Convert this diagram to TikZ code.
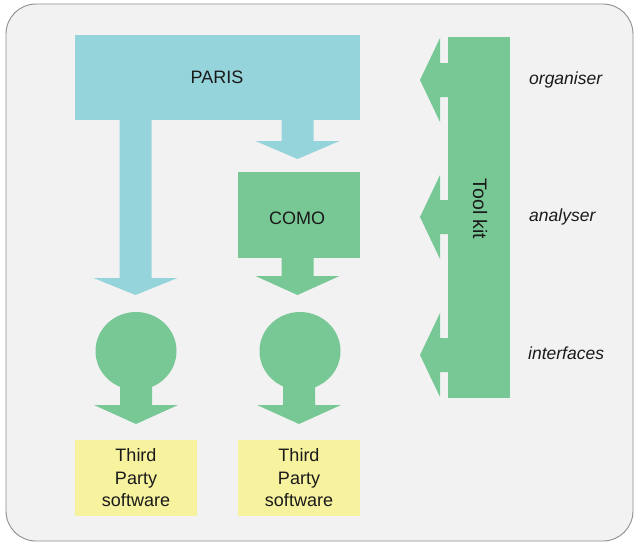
\documentclass[tikz,border=0pt]{standalone}
\usepackage{fontspec}
\setmainfont{Liberation Sans}
\usetikzlibrary{shapes.geometric}
\definecolor{bgpanel}{HTML}{F2F2F2}
\definecolor{panelline}{HTML}{8E8E8E}
\definecolor{parisblue}{HTML}{96D4DC}
\definecolor{toolgreen}{HTML}{78C896}
\definecolor{softyellow}{HTML}{F6F29E}
\definecolor{inkc}{HTML}{1A1A1A}
\newcommand{\dnarrow}[5]{%
  \fill[#5] (#1-16,#2) -- (#1+16,#2) -- (#1+16,#3) -- (#1+42,#3) -- (#1,#4) -- (#1-42,#3) -- (#1-16,#3) -- cycle;}
\newcommand{\lfarrow}[1]{%
  \fill[toolgreen] (449,#1-17) -- (440,#1-17) -- (440,#1-42) -- (420,#1) -- (440,#1+42) -- (440,#1+17) -- (449,#1+17) -- cycle;}
\begin{document}
\begin{tikzpicture}[x=1pt,y=-1pt,
  every node/.style={text=inkc, font=\fontsize{18}{22.5}\selectfont, inner sep=0pt},
  parisbox/.style={fill=parisblue, minimum width=285, minimum height=85},
  greenbox/.style={fill=toolgreen},
  yellowbox/.style={fill=softyellow, minimum width=122, minimum height=76, align=center},
  ball/.style={fill=toolgreen, ellipse, minimum width=81, minimum height=78},
  sidelabel/.style={anchor=west, font=\itshape\fontsize{17.5}{20}\selectfont}
]
\fill[white] (0,0) rectangle (637,544);
\draw[panelline, fill=bgpanel, line width=0.9, rounded corners=30] (6,4) rectangle (633,541);

% PARIS
\node[parisbox] (paris) at (217.5,77.5) {};
\node at (217,77) {PARIS};
\dnarrow{135.5}{119}{278}{295}{parisblue}
\dnarrow{297.5}{119}{141}{159}{parisblue}

% COMO
\node[greenbox, minimum width=122, minimum height=86] (como) at (299,215) {};
\node at (297,218) {COMO};
\dnarrow{297.5}{257}{276}{295}{toolgreen}

% balls
\node[ball] (b1) at (136,351) {};
\node[ball] (b2) at (300,351) {};
\dnarrow{136}{380}{405}{424}{toolgreen}
\dnarrow{299}{380}{405}{424}{toolgreen}

% third party
\node[yellowbox] (t1) at (136,478) {Third\\Party\\software};
\node[yellowbox] (t2) at (299,478) {Third\\Party\\software};

% Tool kit
\node[greenbox, minimum width=361, minimum height=62, rotate=-90] (tk) at (479,217.5) {};
\node[rotate=-90, font=\fontsize{19.5}{22}\selectfont] at (480,209) {Tool kit};
\lfarrow{80}
\lfarrow{217}
\lfarrow{355}

\node[sidelabel] (l1) at (529,80) {organiser};
\node[sidelabel] (l2) at (529,217) {analyser};
\node[sidelabel] (l3) at (528,353) {interfaces};
\end{tikzpicture}
\end{document}
